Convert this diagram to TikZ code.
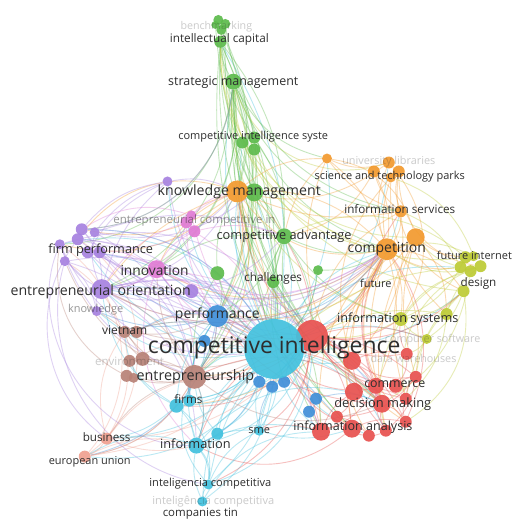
\documentclass[tikz,border=0pt]{standalone}
\usepackage{fontspec}
\setmainfont{Open Sans}
\definecolor{cgreen}{HTML}{5DBB4C}
\definecolor{corange}{HTML}{F39A2E}
\definecolor{ccyan}{HTML}{42C1DE}
\definecolor{cred}{HTML}{E8514F}
\definecolor{cpurple}{HTML}{A782E0}
\definecolor{cpink}{HTML}{E07BD4}
\definecolor{cblue}{HTML}{3F8FD8}
\definecolor{cbrown}{HTML}{B88277}
\definecolor{cyel}{HTML}{BDCB35}
\definecolor{csalmon}{HTML}{F0A090}
\definecolor{ctext}{HTML}{2E2E2E}
\pgfdeclarelayer{back}\pgfdeclarelayer{bg}\pgfdeclarelayer{fg}\pgfsetlayers{back,bg,main,fg}
\begin{document}
\begin{tikzpicture}[x=1pt,y=-1pt,
  dot/.style={circle,inner sep=0pt,minimum size={2*#1pt},opacity=0.92},
  edge/.style={line width=0.9pt,draw opacity=0.36},
  lab/.style={inner sep=0pt,text=ctext,font=\fontsize{#1}{#1}\selectfont},
  flab/.style={inner sep=0pt,text=ctext,text opacity=0.25,font=\fontsize{#1}{#1}\selectfont},
  mlab/.style={inner sep=0pt,text=ctext,text opacity=0.5,font=\fontsize{#1}{#1}\selectfont}]
\begin{pgfonlayer}{back}
\useasboundingbox[fill=white] (0,0) rectangle (510,519);
\end{pgfonlayer}
% ---- nodes: green
\foreach \n/\x/\y/\r in {bma/219/20/5,bmb/226/24/5,bmc/216/25/4,bmd/222/30/5,ic/221/42/6,sm/234/82/8,
  cisa/243/143/6,cisb/255/138/6,cisc/255/150/6,kmg/255/193/9,ca/285/237/8,ch/274/283/6,ga/218/274/7,gb/319/271/5}
  \node[dot=\r,fill=cgreen] (\n) at (\x,\y) {};
% orange
\foreach \n/\x/\y/\r in {oa/328/159/5,ula/390/163/6,ulb/375/172/6,ulc/400/172/6,stp/392/178/5,is/402/212/6,
  comp/388/250/11,compb/417/238/9,kmo/238/192/11}
  \node[dot=\r,fill=corange] (\n) at (\x,\y) {};
% yellow-green
\foreach \n/\x/\y/\r in {fia/467/258/6,fib/475/257/5,fic/482/267/6,fid/462/268/6,fie/472/272/6,des/465/292/6,
  isys/402/320/7,isysb/448/315/6,cs/428/340/5}
  \node[dot=\r,fill=cyel] (\n) at (\x,\y) {};
% red
\foreach \n/\x/\y/\r in {ra/313/337/16,dw/353/362/9,dwb/408/355/6,cma/417/378/6,cmb/377/387/8,cmc/397/387/7,
  cmd/355/393/9,dm/383/405/9,dmb/407/400/6,iaa/322/433/9,iab/353/430/9,iac/338/418/6,iad/370/437/6,iae/387/432/6,iaf/407/423/6}
  \node[dot=\r,fill=cred] (\n) at (\x,\y) {};
% blue
\foreach \n/\x/\y/\r in {perf/218/317/11,ba/260/383/6,bb/273/388/6,bc/285/383/6,bd/317/400/6,be/310/413/6,bf/205/342/6}
  \node[dot=\r,fill=cblue] (\n) at (\x,\y) {};
% cyan
\foreach \n/\x/\y/\r in {ci/275/350/30,fma/177/407/7,fmb/190/402/6,inf/197/447/8,infb/218/435/6,sme/260/432/5,
  icomp/209/486/5,icompb/203/503/5}
  \node[dot=\r,fill=ccyan] (\n) at (\x,\y) {};
% brown
\foreach \n/\x/\y/\r in {vna/125/333/6,vnb/137/333/6,enva/130/362/6,envb/143/360/7,bha/127/377/6,bhb/134/379/5,ent/195/378/12}
  \node[dot=\r,fill=cbrown] (\n) at (\x,\y) {};
% salmon
\foreach \n/\x/\y/\r in {bus/107/440/6,eu/85/458/6}
  \node[dot=\r,fill=csalmon] (\n) at (\x,\y) {};
% purple
\foreach \n/\x/\y/\r in {fpa/82/230/6,fpb/95/233/5,fpc/78/240/6,fpd/60/245/5,fpe/88/253/6,fpf/100/253/6,fpg/65/262/5,
  pk/168/182/5,eo/102/290/10,eob/192/292/7,kn/97/312/5}
  \node[dot=\r,fill=cpurple] (\n) at (\x,\y) {};
% pink
\foreach \n/\x/\y/\r in {eca/187/223/6,ecb/195/232/6,ecc/192/216/5,inn/157/270/9}
  \node[dot=\r,fill=cpink] (\n) at (\x,\y) {};
% ---- edges
\begin{pgfonlayer}{bg}
\foreach \a/\b/\c/\k in {
 ci/sm/ccyan/10,ci/ic/ccyan/-12,ci/cisa/ccyan/8,ci/kmg/ccyan/-6,ci/kmo/ccyan/10,ci/ca/ccyan/-10,ci/comp/ccyan/12,
 ci/is/ccyan/-15,ci/isys/ccyan/10,ci/des/ccyan/-12,ci/fid/ccyan/15,ci/dm/ccyan/10,ci/iaa/ccyan/-10,ci/cmb/ccyan/12,
 ci/dw/ccyan/-8,ci/perf/ccyan/10,ci/ent/ccyan/-10,ci/fma/ccyan/12,ci/inf/ccyan/-12,ci/sme/ccyan/10,ci/icomp/ccyan/-8,
 ci/eo/ccyan/12,ci/inn/ccyan/-10,ci/fpe/ccyan/15,ci/vna/ccyan/-12,ci/bus/ccyan/14,ci/ch/ccyan/8,ci/gb/ccyan/-10,
 ci/pk/ccyan/15,ci/oa/ccyan/-12,ci/eca/ccyan/10,ci/icompb/ccyan/15,ci/infb/ccyan/-10,ci/fmb/ccyan/10,ci/eu/ccyan/20,
 ci/ula/ccyan/-14,ci/cs/ccyan/12,ci/iad/ccyan/-10,ci/fpa/ccyan/-18,ci/kn/ccyan/15,ci/fpd/ccyan/-22,ci/iae/ccyan/14,
 sm/ic/cgreen/8,sm/cisa/cgreen/-10,sm/kmg/cgreen/10,sm/ca/cgreen/-12,sm/comp/cyel/-25,sm/oa/cgreen/-15,sm/eo/cgreen/25,
 sm/fpa/cgreen/25,ic/kmg/cgreen/-8,ic/ca/cgreen/12,bmc/ca/cgreen/-8,bma/ci/cgreen/6,ic/perf/cgreen/15,sm/ra/cgreen/-10,
 cisb/ca/cgreen/10,cisa/kmo/cgreen/-10,kmg/ca/cgreen/8,ca/ch/cgreen/-8,ca/perf/cgreen/10,ca/inn/cgreen/-12,ca/ra/cgreen/10,
 ga/kmo/cgreen/10,gb/comp/cgreen/-10,ca/ent/cgreen/12,ca/bc/cgreen/-10,cisc/ci/cgreen/-6,sm/ci/cgreen/-4,sm/is/cgreen/-20,
 sm/isys/cyel/-25,bmd/comp/cyel/-25,ic/des/cyel/-25,ca/iab/cgreen/-15,ch/iaa/cgreen/10,ga/ent/cgreen/-10,
 sm/perf/cgreen/12,sm/ent/cgreen/15,sm/inn/cgreen/18,sm/dm/cgreen/-18,sm/iaa/cgreen/-8,ic/ci/cgreen/8,ic/ra/cgreen/-12,
 bmb/ra/cgreen/-10,bmd/kmo/cgreen/12,ic/eo/cgreen/25,sm/fpd/cgreen/25,sm/kmo/cgreen/12,bmd/cisb/cgreen/-10,kmg/ci/cgreen/8,
 kmg/ra/cgreen/-10,cisc/perf/cgreen/12,cisb/comp/cgreen/-12,ca/comp/cgreen/-10,ca/isys/cgreen/-12,ca/dm/cgreen/-10,
 ch/ci/cgreen/5,gb/ci/cgreen/10,ga/ci/cgreen/-10,ga/perf/cgreen/10,cisa/ent/cgreen/15,ic/iab/cgreen/-15,
 sm/ula/cyel/-28,ic/compb/cyel/-28,sm/fib/cyel/-28,bmb/is/cgreen/-22,
 kmo/comp/corange/15,kmo/is/corange/-10,kmo/oa/corange/12,oa/ula/corange/-12,oa/comp/corange/10,ula/comp/corange/-12,
 ulb/comp/corange/10,stp/comp/corange/-8,is/comp/corange/12,comp/compb/corange/-10,comp/isys/corange/10,comp/fid/corange/-12,
 comp/des/corange/15,comp/dw/corange/-10,comp/cma/corange/12,comp/iaa/corange/-15,comp/ra/corange/12,kmo/inn/corange/-12,
 kmo/fpa/corange/15,kmo/eo/corange/-10,kmo/perf/corange/12,kmo/iab/corange/-15,compb/isysb/corange/12,compb/dmb/corange/-12,
 comp/perf/corange/15,oa/ca/corange/-10,is/ulc/corange/10,compb/fia/corange/-10,oa/compb/corange/20,ula/isys/corange/22,
 ulc/des/corange/-22,stp/dw/corange/-18,oa/iaf/corange/-25,kmo/ent/corange/18,kmo/fpd/corange/18,comp/ent/corange/18,
 is/ra/corange/-15,compb/iae/corange/-12,ulb/ca/corange/15,
 kmo/ci/corange/5,kmo/ca/corange/10,kmo/ra/corange/-10,comp/dm/corange/-10,comp/cmb/corange/12,is/dw/corange/15,
 comp/iab/corange/-12,compb/cma/corange/-10,oa/is/corange/-10,ulb/is/corange/-10,kmo/comp/corange/-20,kmo/fpc/corange/-22,
 comp/inn/corange/20,comp/eo/corange/22,compb/perf/corange/18,comp/fma/corange/20,ula/kmo/corange/15,stp/isysb/corange/-15,
 comp/iaf/corange/-22,compb/iad/corange/-28,ulc/fic/corange/-25,
 fia/isys/cyel/12,fic/isysb/cyel/-10,des/isys/cyel/10,isys/cs/cyel/-10,fid/compb/cyel/10,des/cma/cyel/-12,isys/ra/cyel/10,
 fib/comp/cyel/-12,cs/dwb/cyel/10,des/dmb/cyel/-10,fie/dm/cyel/15,isysb/ra/cyel/-10,fia/ca/cyel/-20,des/iaf/cyel/20,
 fic/comp/cyel/15,fie/isys/cyel/-12,des/cs/cyel/10,fid/is/cyel/-12,isysb/dmb/cyel/12,fib/stp/cyel/-15,fid/ci/cyel/-10,
 fic/dmb/cyel/-25,fic/iae/cyel/-28,
 ra/dw/cred/10,ra/cmb/cred/-10,ra/dm/cred/12,ra/iaa/cred/-10,ra/iab/cred/10,dw/cma/cred/-12,dw/dwb/cred/10,cmb/dm/cred/-10,
 cmd/iac/cred/10,dm/iae/cred/-10,iaa/iab/cred/12,iab/iad/cred/-10,iaf/dmb/cred/10,cma/dmb/cred/-10,ra/isys/cred/-12,
 ra/perf/cred/12,ra/comp/cred/-10,ra/ent/cred/14,ra/inf/cred/-15,dm/perf/cred/15,iaa/sme/cred/-10,ra/kmo/cred/12,ra/ca/cred/-8,
 cmc/cma/cred/10,iad/iae/cred/-8,ra/cmc/cred/-12,ra/iaf/cred/12,dw/iae/cred/-10,cmd/dmb/cred/12,iac/cma/cred/-15,ra/dwb/cred/-10,
 ra/fma/cred/18,iab/inf/cred/20,dm/ent/cred/-20,cmb/iaa/cred/12,ra/cs/cred/10,dwb/cmc/cred/12,ra/des/cred/-15,
 ra/cma/cred/10,ra/dmb/cred/-12,dw/dm/cred/10,cmb/iae/cred/-10,dm/iaf/cred/10,ra/sme/cred/15,iaa/perf/cred/-18,iab/ci/cred/10,
 dm/ci/cred/-12,cmd/ci/cred/10,ra/icomp/cred/18,dm/is/cred/18,cmb/comp/cred/15,iaf/comp/cred/-18,dwb/isys/cred/10,
 cmd/iaa/cred/-10,iac/iad/cred/10,dw/cmd/cred/-12,cma/iae/cred/12,iaf/iab/cred/-10,
 perf/ent/cblue/10,perf/eo/cblue/-12,perf/inn/cblue/10,perf/fpe/cblue/-12,perf/ba/cblue/10,perf/kn/cblue/12,ba/bc/cblue/-10,
 bd/be/cblue/10,be/iaa/cblue/-10,bd/dm/cblue/12,perf/fmb/cblue/-10,bf/ent/cblue/10,perf/vnb/cblue/-12,bc/ra/cblue/10,
 perf/comp/cblue/-18,perf/iac/cblue/5,ba/inf/cblue/12,bb/sme/cblue/-10,perf/eu/cblue/20,bf/eo/cblue/-12,
 ent/vna/cbrown/10,ent/enva/cbrown/-12,ent/bha/cbrown/10,ent/eo/cbrown/-12,ent/inn/cbrown/10,vna/envb/cbrown/-10,
 enva/bhb/cbrown/10,ent/fmb/cbrown/-10,ent/inf/cbrown/12,ent/bus/cbrown/-12,vnb/perf/cbrown/10,ent/fpg/cbrown/15,envb/kn/cbrown/-10,
 vna/ci/cbrown/12,envb/ci/cbrown/-10,bha/fpd/cbrown/22,vnb/comp/cbrown/-20,ent/eu/cbrown/15,
 ent/ra/cbrown/15,ent/dm/cbrown/-18,vna/perf/cbrown/-10,enva/ci/cbrown/12,bha/ci/cbrown/-12,ent/perf/cbrown/-10,
 bus/eu/csalmon/10,bus/inf/csalmon/-10,eu/inf/csalmon/12,eu/ent/csalmon/-15,bus/vna/csalmon/15,eu/fpd/csalmon/-30,bus/ra/csalmon/-15,
 eu/fpc/csalmon/-35,bus/fpg/csalmon/-28,eu/ci/csalmon/-12,bus/ent/csalmon/10,
 fpa/eo/cpurple/12,fpb/eo/cpurple/-10,fpc/inn/cpurple/10,fpd/eo/cpurple/-12,fpe/pk/cpurple/10,fpf/ci/cpurple/-10,fpg/kn/cpurple/12,
 eo/inn/cpurple/-10,eo/pk/cpurple/10,eo/eob/cpurple/-12,fpa/pk/cpurple/12,fpd/ent/cpurple/-15,eo/ci/cpurple/10,fpe/perf/cpurple/-10,
 pk/kmo/cpurple/10,eo/kn/cpurple/-10,fpb/ca/cpurple/12,fpf/ra/cpurple/-10,eo/vna/cpurple/12,fpc/kmo/cpurple/-20,fpa/ci/cpurple/18,
 fpd/ci/cpurple/-22,pk/fpb/cpurple/-10,fpg/ent/cpurple/15,eob/ca/cpurple/-10,eob/comp/cpurple/-15,fpe/iaa/cpurple/20,fpc/comp/cpurple/-22,
 fpa/comp/cpurple/-28,fpd/ra/cpurple/22,eo/ra/cpurple/15,eo/comp/cpurple/-22,fpb/ent/cpurple/15,fpe/ent/cpurple/18,eo/inf/cpurple/18,
 fpc/perf/cpurple/15,fpg/ci/cpurple/18,fpa/sm/cpurple/-25,eo/kmo/cpurple/-15,eo/dm/cpurple/22,fpd/inf/cpurple/-35,fpc/bus/cpurple/-28,
 fpg/icomp/cpurple/-30,fpb/kmg/cpurple/-15,pk/ci/cpurple/-12,
 eca/inn/cpink/10,ecb/inn/cpink/-10,eca/kmo/cpink/12,ecc/ci/cpink/-10,inn/eo/cpink/10,inn/fpe/cpink/-12,ecb/ca/cpink/10,
 inn/ci/cpink/-10,inn/ent/cpink/12,eca/eo/cpink/-12,inn/ra/cpink/10,ecc/fpa/cpink/-15,inn/comp/cpink/-18,
 ecb/ci/cpink/12,eca/perf/cpink/-10,inn/perf/cpink/10,ecc/kmg/cpink/10,inn/inf/cpink/-20,
 fma/inf/ccyan/10,fmb/ci/ccyan/-10,inf/icomp/ccyan/12,icomp/icompb/ccyan/-10,inf/sme/ccyan/10,infb/ci/ccyan/-12,
 sme/ci/ccyan/10,icomp/ci/ccyan/-12,icompb/ci/ccyan/12,fma/ent/ccyan/-10,inf/iaa/ccyan/12,infb/ba/ccyan/-10,fma/bus/ccyan/10,
 icomp/inf/ccyan/-15,icompb/inf/ccyan/10,fma/perf/ccyan/12,inf/ent/ccyan/-12,icomp/ent/ccyan/20,sme/iab/ccyan/-10,fma/eo/ccyan/15,
 inf/ra/ccyan/-18,icomp/ra/ccyan/-22,icompb/iaa/ccyan/18,fma/ra/ccyan/-15,inf/dm/ccyan/22,sme/ra/ccyan/10,fmb/perf/ccyan/10,
 fma/vna/ccyan/18,infb/ent/ccyan/10,inf/eu/ccyan/-15,icomp/fma/ccyan/-18,icomp/sme/ccyan/12,inf/perf/ccyan/15}
  {\pgfmathsetmacro\kk{1.6*\k}
   \draw[edge,\c] (\a) to[bend left=\kk] (\b);}
\end{pgfonlayer}
% ---- labels
\begin{pgfonlayer}{fg}
\node[flab=10.7] (l1) at (217,27) {benchmarking};
\node[lab=11.8] (l2) at (220,40) {intellectual capital};
\node[lab=12.5] (l3) at (234,83) {strategic management};
\node[lab=11] (l4) at (254,137) {competitive intelligence syste};
\node[lab=14.2] (l5) at (240,192) {knowledge management};
\node[flab=10.9] (l6) at (390,162) {university libraries};
\node[lab=11] (l7) at (391,177) {science and technology parks};
\node[mlab=11.5] (l8) at (195,221) {entrepreneurial competitive in};
\node[lab=12.8] (l9) at (285,237) {competitive advantage};
\node[lab=11.7] (l10) at (401,210) {information services};
\node[lab=12.7] (l11) at (101,251) {firm performance};
\node[lab=14] (l12) at (388,250) {competition};
\node[lab=11,anchor=west] (l13) at (438,256) {future internet};
\node[lab=13.8] (l14) at (155,271) {innovation};
\node[lab=11.8] (l15) at (274,279) {challenges};
\node[lab=11] (l16) at (377,284) {future};
\node[lab=11.7] (l17) at (480,284) {design};
\node[lab=14.2] (l18) at (101,293) {entrepreneurial orientation};
\node[mlab=11] (l19) at (96,311) {knowledge};
\node[lab=14] (l20) at (218,316) {performance};
\node[lab=12.7] (l21) at (399,320) {information systems};
\node[lab=12] (l22) at (125,331) {vietnam};
\node[flab=10.8] (l23) at (434,341) {computer software};
\node[lab=23] (l24) at (275,349) {competitive intelligence};
\node[flab=10.8,anchor=east] (l25) at (458,360) {data warehouses};
\node[flab=11.5] (l26) at (130,362) {environment};
\node[lab=14.4] (l27) at (196,378) {entrepreneurship};
\node[lab=12.4] (l28) at (396,385) {commerce};
\node[lab=11.7] (l29) at (189,400) {firms};
\node[lab=12.9] (l30) at (384,405) {decision making};
\node[lab=11.7] (l31) at (107,438) {business};
\node[lab=12.6] (l32) at (354,429) {information analysis};
\node[lab=11] (l33) at (260,432) {sme};
\node[lab=12.8] (l34) at (196,445) {information};
\node[lab=11] (l35) at (90,463) {european union};
\node[lab=11.1] (l36) at (211,485) {inteligencia competitiva};
\node[flab=11.1] (l37) at (214,503) {inteligência competitiva};
\node[lab=11.5] (l38) at (201,515) {companies tin};
\end{pgfonlayer}
\end{tikzpicture}
\end{document}
